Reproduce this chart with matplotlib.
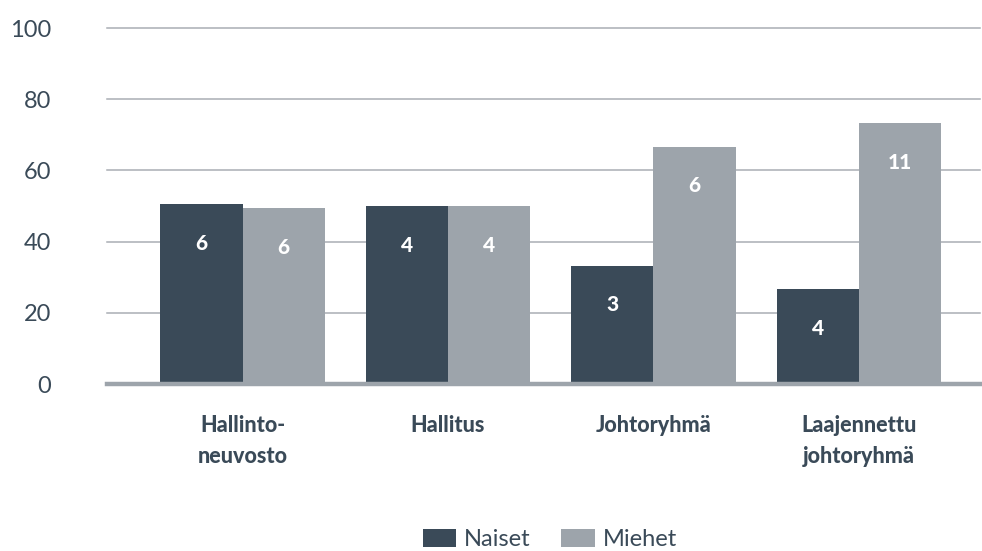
import matplotlib.pyplot as plt
import numpy as np

plt.rcParams['font.family'] = ['Lato', 'DejaVu Sans']

categories = ["Hallinto-\nneuvosto", "Hallitus", "Johtoryhmä", "Laajennettu\njohtoryhmä"]
naiset_pct = [50.5, 50.0, 33.3, 26.7]
miehet_pct = [49.5, 50.0, 66.7, 73.3]
naiset_n = [6, 4, 3, 4]
miehet_n = [6, 4, 6, 11]

dark = "#3a4a58"
grey = "#9da4ab"
text_col = "#3a4a58"

fig = plt.figure(figsize=(9.82, 5.51), dpi=100)
ax = fig.add_axes([0.109, 0.303, 0.889, 0.646])

x = np.arange(len(categories))
w = 0.4
b1 = ax.bar(x - w / 2, naiset_pct, w, color=dark, label="Naiset", zorder=2)
b2 = ax.bar(x + w / 2, miehet_pct, w, color=grey, label="Miehet", zorder=2)

for bars, counts in ((b1, naiset_n), (b2, miehet_n)):
    for rect, n in zip(bars, counts):
        ax.text(rect.get_x() + rect.get_width() / 2, rect.get_height() - 11, str(n),
                ha="center", va="center", color="white", fontsize=15, fontweight="black",
                zorder=3)

ax.set_xlim(-0.66, 3.59)
ax.set_ylim(0, 100)
ax.set_yticks(range(0, 101, 20))
for yv in range(20, 101, 20):
    ax.axhline(yv, color="#a9aeb4", linewidth=1.1, zorder=1, clip_on=False)
ax.axhline(0, color=grey, linewidth=3.2, zorder=4, clip_on=False)

ax.set_xticks(x)
ax.set_xticklabels(categories, fontsize=15.5, fontweight="black", color=text_col,
                   linespacing=1.6, va="top")
ax.tick_params(axis="x", length=0, pad=22)
ax.tick_params(axis="y", length=0, pad=40, labelsize=17, labelcolor=text_col)
for s in ax.spines.values():
    s.set_visible(False)

fig.legend(handles=[b1, b2], loc="lower center", bbox_to_anchor=(0.56, -0.037), ncol=2,
           frameon=False, fontsize=17, labelcolor=text_col, handlelength=1.4,
           handleheight=0.75, handletextpad=0.35, columnspacing=1.3)

fig.savefig("out.png", dpi=100)
